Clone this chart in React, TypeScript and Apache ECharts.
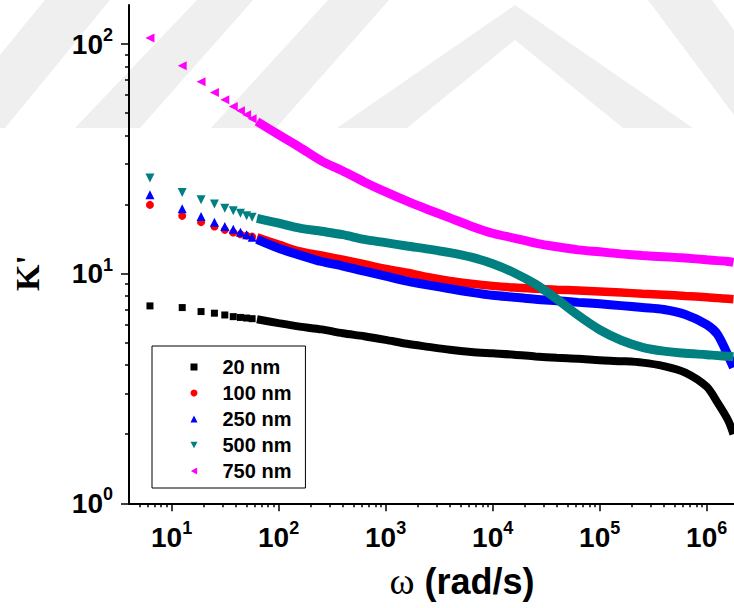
import React, { useEffect, useRef } from "react";
import * as echarts from "echarts";

// angular frequency (rad/s) of the separately visible first points
const sparseOmega = [6.28, 12.57, 18.85, 25.13, 31.42, 37.7, 43.98, 50.27, 56.55];
// angular frequency (rad/s) of the densely measured part
const denseOmega = [
  62.8, 100, 158, 251, 398, 631, 1000, 1585, 2512, 3981, 6310, 10000, 15849,
  25119, 39811, 63096, 100000, 158489, 251189, 398107, 630957, 1000000,
  1258925, 1584893, 1778279,
];

const seriesNames = ["20 nm", "100 nm", "250 nm", "500 nm", "750 nm"];

const k20Sparse = [7.24, 7.12, 6.84, 6.73, 6.61, 6.5, 6.45, 6.41, 6.37];
const k20Dense = [
  6.33, 6.09, 5.88, 5.72, 5.5, 5.34, 5.15, 4.95, 4.8, 4.66, 4.56, 4.5, 4.44,
  4.36, 4.3, 4.26, 4.2, 4.16, 4.1, 3.96, 3.71, 3.22, 2.75, 2.3, 2.0,
];
const k100Sparse = [19.94, 17.86, 16.77, 16.04, 15.52, 15.11, 14.85, 14.65, 14.5];
const k100Dense = [
  14.4, 13.4, 12.5, 12.0, 11.5, 11.0, 10.5, 10.1, 9.65, 9.3, 9.05, 8.85, 8.7,
  8.6, 8.52, 8.45, 8.37, 8.28, 8.18, 8.1, 8.0, 7.9, 7.83, 7.77, 7.74,
];
const k250Sparse = [22.05, 19.16, 17.74, 16.77, 16.04, 15.63, 15.17, 14.76, 14.4];
const k250Dense = [
  14.1, 12.9, 12.05, 11.3, 10.8, 10.25, 9.75, 9.28, 8.92, 8.6, 8.3, 8.05, 7.9,
  7.74, 7.62, 7.5, 7.39, 7.26, 7.12, 6.98, 6.64, 6.0, 5.45, 4.4, 3.9,
];
const k500Sparse = [26.1, 22.6, 20.97, 20.1, 19.3, 18.8, 18.35, 17.9, 17.6];
const k500Dense = [
  17.4, 16.6, 15.8, 15.3, 14.8, 14.1, 13.65, 13.2, 12.8, 12.35, 11.8, 11.05,
  10.1, 9.0, 7.75, 6.58, 5.7, 5.13, 4.78, 4.6, 4.5, 4.44, 4.4, 4.37, 4.35,
];
const k750Sparse = [106.2, 80.4, 68.5, 61.5, 57.2, 53.5, 51.2, 49.2, 47.3];
const k750Dense = [
  46.0, 40.3, 35.5, 31.0, 28.0, 25.1, 22.7, 20.7, 19.0, 17.5, 16.1, 15.0, 14.3,
  13.6, 13.1, 12.7, 12.45, 12.2, 12.0, 11.85, 11.7, 11.5, 11.4, 11.3, 11.2,
];

const xMajorTicks = [10, 100, 1000, 10000, 100000, 1000000];
const xMinorTicks = [
  5, 6, 7, 8, 9, 20, 30, 40, 50, 60, 70, 80, 90, 200, 300, 400, 500, 600, 700,
  800, 900, 2000, 3000, 4000, 5000, 6000, 7000, 8000, 9000, 20000, 30000, 40000,
  50000, 60000, 70000, 80000, 90000, 200000, 300000, 400000, 500000, 600000,
  700000, 800000, 900000,
];
const yMajorTicks = [1, 10, 100];
const yMinorTicks = [2, 3, 4, 5, 6, 7, 8, 9, 20, 30, 40, 50, 60, 70, 80, 90];

const SANS = '"Liberation Sans", Arial, Helvetica, sans-serif';
const SERIF = '"Liberation Serif", "Times New Roman", serif';

const DOWN_TRI = "path://M0,0 L10,0 L5,9 Z";
const LEFT_TRI = "path://M9,0 L9,10 L0,5 Z";

const zip = (xs: number[], ys: number[]) => xs.map((x, i) => [x, ys[i]]);

const styles = [
  { color: "#000000", symbol: "rect", size: 7, legendIcon: "rect", sparse: k20Sparse, dense: k20Dense, width: 8 },
  { color: "#ff0000", symbol: "circle", size: 8, legendIcon: "circle", sparse: k100Sparse, dense: k100Dense, width: 8.5 },
  { color: "#0000ff", symbol: "triangle", size: 9, legendIcon: "triangle", sparse: k250Sparse, dense: k250Dense, width: 9 },
  { color: "#008080", symbol: DOWN_TRI, size: 9, legendIcon: DOWN_TRI, sparse: k500Sparse, dense: k500Dense, width: 9 },
  { color: "#ff00ff", symbol: LEFT_TRI, size: 9, legendIcon: LEFT_TRI, sparse: k750Sparse, dense: k750Dense, width: 9 },
];

const labelRich = {
  b: { fontSize: 28, fontWeight: "bold", fontFamily: SANS, color: "#000", lineHeight: 36 },
  s: { fontSize: 18, fontWeight: "bold", fontFamily: SANS, color: "#000", lineHeight: 18, verticalAlign: "top" },
};
const powFormatter = (v: number) => `{b|10}{s|${Math.round(Math.log10(v))}}`;

const WM = "#efefef";
const watermark = [
  [[-60, 128], [5, 128], [110, 0], [45, 0]],
  [[75, 128], [140, 128], [253, 0], [197, 0]],
  [[211, 128], [276, 128], [389, 0], [328, 0]],
  [[337, 128], [515, 5], [693, 128], [623, 128], [515, 40], [407, 128]],
  [[648, 0], [712, 0], [734, 30], [734, 115]],
];

export default function App() {
  const ref = useRef<HTMLDivElement>(null);
  useEffect(() => {
    if (!ref.current) return;
    const chart = echarts.init(ref.current, undefined, { renderer: "svg" });

    const xBase = { type: "log", logBase: 10, min: 4, max: 1.8e6, position: "bottom", gridIndex: 0 };
    const yBase = { type: "log", logBase: 10, min: 1, max: 148, position: "left", gridIndex: 0 };
    const tickLine = { color: "#000", width: 1.5 };

    const series: any[] = [];
    styles.forEach((s, i) => {
      series.push({
        type: "scatter",
        name: seriesNames[i],
        data: zip(sparseOmega, s.sparse),
        symbol: s.symbol,
        symbolSize: s.size,
        itemStyle: { color: s.color, opacity: 1 },
        z: 3 + i,
      });
    });
    styles.forEach((s, i) => {
      series.push({
        type: "line",
        name: seriesNames[i],
        data: zip(denseOmega, s.dense),
        symbol: "none",
        showSymbol: false,
        smooth: 0.3,
        lineStyle: { color: s.color, width: s.width, cap: "butt", opacity: 1 },
        itemStyle: { color: s.color },
        z: 3 + i,
      });
    });

    chart.setOption({
      animation: false,
      backgroundColor: "#ffffff",
      grid: { left: 129, right: 0, top: 5, bottom: 104.7, containLabel: false, outerBoundsMode: "none" },
      xAxis: [
        {
          ...xBase,
          axisLine: { show: true, onZero: false, lineStyle: { color: "#000", width: 2 } },
          axisTick: { show: true, inside: false, length: 8, lineStyle: tickLine, customValues: xMajorTicks },
          axisLabel: { show: true, margin: 16, customValues: xMajorTicks, formatter: powFormatter, rich: labelRich },
          splitLine: { show: false },
          minorTick: { show: false },
        },
        {
          ...xBase,
          axisLine: { show: false },
          axisTick: { show: true, inside: false, length: 4, lineStyle: tickLine, customValues: xMinorTicks },
          axisLabel: { show: false },
          splitLine: { show: false },
        },
      ],
      yAxis: [
        {
          ...yBase,
          axisLine: { show: true, onZero: false, lineStyle: { color: "#000", width: 2 } },
          axisTick: { show: true, inside: false, length: 8, lineStyle: tickLine, customValues: yMajorTicks },
          axisLabel: { show: true, margin: 16, customValues: yMajorTicks, formatter: powFormatter, rich: labelRich },
          splitLine: { show: false },
          minorTick: { show: false },
        },
        {
          ...yBase,
          axisLine: { show: false },
          axisTick: { show: true, inside: false, length: 4, lineStyle: tickLine, customValues: yMinorTicks },
          axisLabel: { show: false },
          splitLine: { show: false },
        },
      ],
      legend: {
        data: seriesNames.map((name, i) => ({
          name,
          icon: styles[i].legendIcon,
          itemStyle: { color: styles[i].color, opacity: 1 },
        })),
        orient: "vertical",
        left: 152,
        top: 346,
        itemWidth: 7,
        itemHeight: 7,
        itemGap: 6,
        padding: [11, 14, 7, 38.5],
        borderColor: "#000",
        borderWidth: 1,
        selectedMode: false,
        textStyle: { fontSize: 20, fontWeight: "bold", fontFamily: SANS, color: "#000", lineHeight: 20, padding: [0, 0, 0, 20] },
      },
      graphic: [
        ...watermark.map((pts) => ({
          type: "polygon",
          z: -10,
          silent: true,
          shape: { points: pts },
          style: { fill: WM },
        })),
        {
          type: "text",
          x: 27,
          y: 273,
          rotation: Math.PI / 2,
          style: { text: "K'", font: `bold 34px ${SERIF}`, fill: "#000", align: "center", verticalAlign: "middle" },
        },
        {
          type: "text",
          x: 462,
          y: 581,
          style: {
            text: "{w|ω}{t| (rad/s)}",
            align: "center",
            verticalAlign: "middle",
            rich: {
              w: { fontSize: 38, fontFamily: SERIF, fill: "#000", color: "#000" },
              t: { fontSize: 36, fontWeight: "bold", fontFamily: SANS, fill: "#000", color: "#000" },
            },
          },
        },
      ],
      series,
    } as any);
    return () => chart.dispose();
  }, []);
  return <div ref={ref} style={{ position: "absolute", left: 0, top: 0, width: 734, height: 608 }} />;
}
